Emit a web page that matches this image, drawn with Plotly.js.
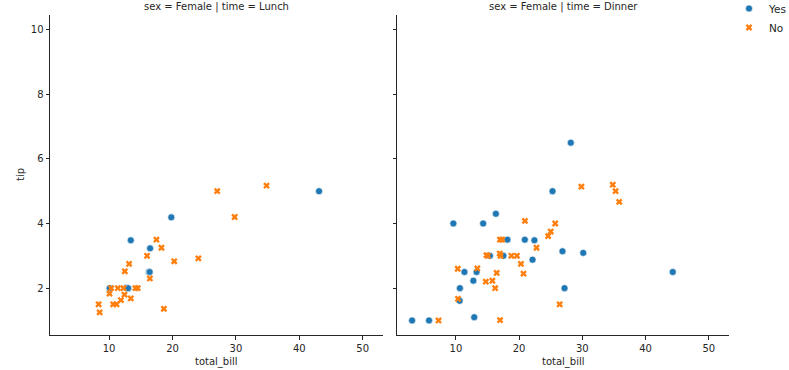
<!DOCTYPE html>
<html><head><meta charset="utf-8">
<script src="https://cdn.plot.ly/plotly-3.0.1.min.js"></script>
<style>html,body{margin:0;padding:0;background:#fff}#c{width:789px;height:370px}</style>
</head><body><div id="c"></div>
<script>
// Lunch, smoker = Yes
const lunchYesBill = [10.09, 12.74, 13.00, 13.00, 13.42, 16.27, 16.40, 16.47, 19.81, 43.11];
const lunchYesTip  = [2.00, 2.01, 2.00, 2.00, 3.48, 2.50, 2.50, 3.23, 4.19, 5.00];
// Lunch, smoker = No
const lunchNoBill = [8.35, 8.51, 10.07, 10.33, 10.65, 11.17, 11.38, 11.87, 12.26, 12.43, 12.48, 13.16, 13.42, 14.15, 14.52, 15.98, 16.43, 17.47, 18.26, 18.64, 20.27, 24.08, 27.05, 29.80, 34.83];
const lunchNoTip  = [1.50, 1.25, 1.83, 2.00, 1.50, 1.50, 2.00, 1.63, 2.00, 1.80, 2.52, 2.75, 1.68, 2.00, 2.00, 3.00, 2.30, 3.50, 3.25, 1.36, 2.83, 2.92, 5.00, 4.20, 5.17];
// Dinner, smoker = Yes
const dinnerYesBill = [3.07, 5.75, 9.60, 10.59, 10.63, 11.35, 12.76, 12.90, 13.27, 14.31, 15.38, 16.32, 17.51, 18.15, 20.90, 22.12, 22.42, 25.28, 26.86, 27.18, 28.17, 30.14, 44.30];
const dinnerYesTip  = [1.00, 1.00, 4.00, 1.61, 2.00, 2.50, 2.23, 1.10, 2.50, 4.00, 3.00, 4.30, 3.00, 3.50, 3.50, 2.88, 3.48, 5.00, 3.14, 2.00, 6.50, 3.09, 2.50];
// Dinner, smoker = No
const dinnerNoBill = [7.25, 10.29, 10.33, 13.39, 14.73, 14.83, 15.06, 15.77, 16.21, 16.45, 16.93, 16.97, 16.99, 17.07, 17.31, 18.78, 19.65, 20.29, 20.69, 20.92, 22.75, 24.59, 25.00, 25.71, 26.41, 29.85, 34.81, 35.26, 35.83];
const dinnerNoTip  = [1.00, 2.60, 1.67, 2.61, 2.20, 3.02, 3.00, 2.23, 2.00, 2.47, 3.07, 3.50, 1.01, 3.00, 3.50, 3.00, 3.00, 2.75, 2.45, 4.08, 3.25, 3.61, 3.75, 4.00, 1.50, 5.14, 5.20, 5.00, 4.67];

const panelTitles = ['sex = Female | time = Lunch', 'sex = Female | time = Dinner'];
const seriesNames = ['Yes', 'No'];
const xTicks = [10, 20, 30, 40, 50];
const yTicks = [2, 4, 6, 8, 10];

const BLUE = '#1f77b4', ORANGE = '#ff7f0e';
const mk = (color, sym) => ({color: color, symbol: sym, size: sym === 'circle' ? 7 : 6, line: {color: '#fff', width: sym === 'circle' ? 0.6 : 0}});

const traces = [
  {x: lunchYesBill, y: lunchYesTip, xaxis: 'x', yaxis: 'y', name: seriesNames[0], legendgroup: 'yes', mode: 'markers', type: 'scatter', marker: mk(BLUE, 'circle')},
  {x: lunchNoBill, y: lunchNoTip, xaxis: 'x', yaxis: 'y', name: seriesNames[1], legendgroup: 'no', mode: 'markers', type: 'scatter', marker: mk(ORANGE, 'x')},
  {x: dinnerYesBill, y: dinnerYesTip, xaxis: 'x2', yaxis: 'y2', name: seriesNames[0], legendgroup: 'yes', showlegend: false, mode: 'markers', type: 'scatter', marker: mk(BLUE, 'circle')},
  {x: dinnerNoBill, y: dinnerNoTip, xaxis: 'x2', yaxis: 'y2', name: seriesNames[1], legendgroup: 'no', showlegend: false, mode: 'markers', type: 'scatter', marker: mk(ORANGE, 'x')}
];

const W = 789, H = 370;
const FONT = 'DejaVu Sans, sans-serif';
const FS = 10;
const axCommon = {
  showgrid: false, zeroline: false, showline: true, linecolor: '#262626', linewidth: 1,
  ticks: 'outside', ticklen: 3.5, tickwidth: 1, tickcolor: '#262626',
  tickfont: {family: FONT, size: FS, color: '#262626'}, mirror: false, automargin: false
};
const xr = [0.683, 53.197];
const yr = [0.55, 10.45];
const yDom = [1 - 335 / H, 1 - 15 / H];
const txt = {family: FONT, size: FS, color: '#262626'};

const layout = {
  width: W, height: H,
  margin: {l: 0, r: 0, t: 0, b: 0, autoexpand: false},
  paper_bgcolor: '#fff', plot_bgcolor: '#fff',
  font: {family: FONT, color: '#262626'},
  showlegend: true,
  legend: {x: 729 / W, y: 1 + 6 / H, xanchor: 'left', yanchor: 'top', font: {family: FONT, size: 10.5, color: '#262626'}, tracegroupgap: 0, itemwidth: 30, bgcolor: 'rgba(0,0,0,0)'},
  xaxis: Object.assign({}, axCommon, {domain: [50 / W, 383 / W], range: xr, tickvals: xTicks, anchor: 'y'}),
  yaxis: Object.assign({}, axCommon, {domain: yDom, range: yr, tickvals: yTicks, anchor: 'x'}),
  xaxis2: Object.assign({}, axCommon, {domain: [397 / W, 729 / W], range: xr, tickvals: xTicks, anchor: 'y2'}),
  yaxis2: Object.assign({}, axCommon, {domain: yDom, range: yr, tickvals: yTicks, showticklabels: false, anchor: 'x2'}),
  annotations: [
    {text: panelTitles[0], xref: 'x domain', yref: 'paper', x: 0.5, y: 1 - 7 / H, xanchor: 'center', yanchor: 'middle', showarrow: false, font: txt},
    {text: panelTitles[1], xref: 'x2 domain', yref: 'paper', x: 0.5, y: 1 - 7 / H, xanchor: 'center', yanchor: 'middle', showarrow: false, font: txt},
    {text: 'total_bill', xref: 'x domain', yref: 'paper', x: 0.5, y: 1 - 362 / H, xanchor: 'center', yanchor: 'middle', showarrow: false, font: txt},
    {text: 'total_bill', xref: 'x2 domain', yref: 'paper', x: 0.5, y: 1 - 362 / H, xanchor: 'center', yanchor: 'middle', showarrow: false, font: txt},
    {text: 'tip', xref: 'paper', yref: 'y domain', x: 20 / W, y: 0.5, xanchor: 'center', yanchor: 'middle', textangle: -90, showarrow: false, font: txt}
  ]
};

Plotly.newPlot('c', traces, layout, {displayModeBar: false, staticPlot: true});
</script></body></html>
